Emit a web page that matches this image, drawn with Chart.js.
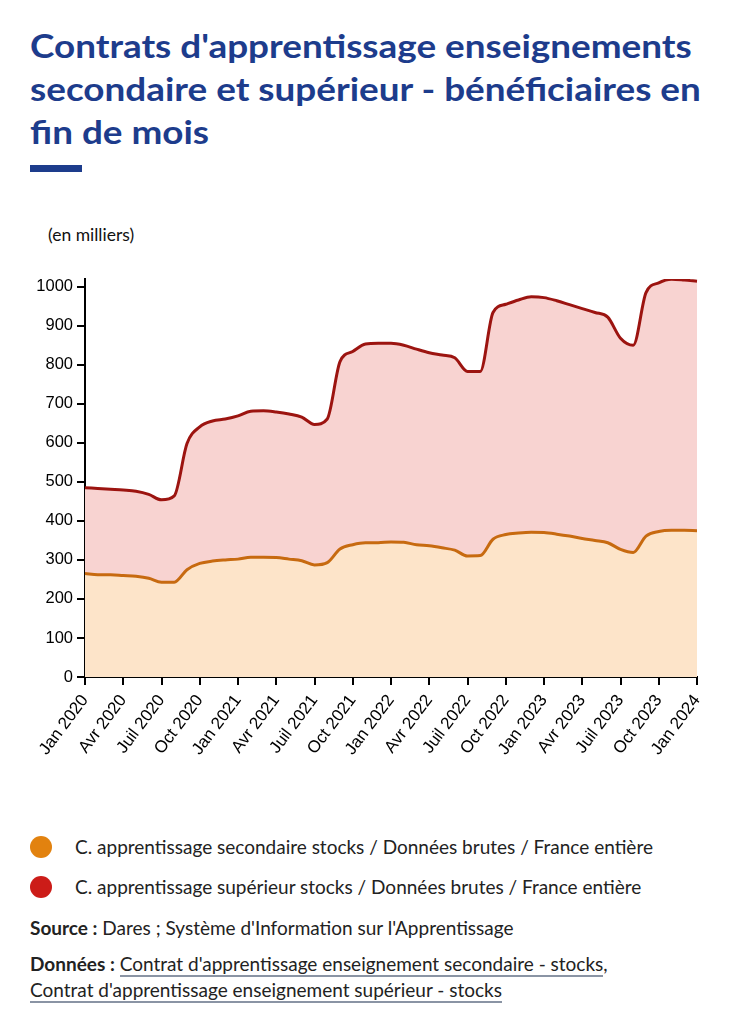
<!DOCTYPE html>
<html lang="fr">
<head>
<meta charset="utf-8">
<script src="https://cdn.jsdelivr.net/npm/chart.js@4.4.1/dist/chart.umd.min.js"></script>
<style>
    body { margin: 0; background: #fff; font-family: Lato, sans-serif; }
    #title { position: absolute; left: 30px; top: 24px; width: 700px; margin: 0; white-space: nowrap;
        font-size: 33px; line-height: 43px; font-weight: 700; color: #1d3c8c;
        transform: scaleX(1.117); transform-origin: left top; }
    #bar { position: absolute; left: 30px; top: 165px; width: 52px; height: 7px; background: #1d3c8c; }
    #unit { position: absolute; left: 48px; top: 224px; font-size: 17.5px; color: #111; }
    #wrap { position: absolute; left: 0; top: 265px; width: 745px; height: 520px; }
    .leg { position: absolute; left: 30px; font-size: 19px; color: #222; }
    .leg span { display: inline-block; width: 22px; height: 22px; border-radius: 50%;
        vertical-align: middle; margin-right: 23px; position: relative; top: -2px; }
    .note { position: absolute; left: 30px; font-size: 19px; color: #222; line-height: 26px; }
    .note a { color: #222; text-decoration: none; border-bottom: 2px solid #8a94a4; }
</style>
</head>
<body>
<h1 id="title">Contrats d'apprentissage enseignements<br>secondaire et supérieur - bénéficiaires en<br>fin de mois</h1>
<div id="bar"></div>
<div id="unit">(en milliers)</div>
<div id="wrap"><canvas id="chart"></canvas></div>
<div class="leg" style="top:835px"><span style="background:#e2820f"></span>C. apprentissage secondaire stocks / Données brutes / France entière</div>
<div class="leg" style="top:875px"><span style="background:#cc1c18"></span>C. apprentissage supérieur stocks / Données brutes / France entière</div>
<div class="note" style="top:915px"><b>Source :</b> Dares ; Système d'Information sur l'Apprentissage</div>
<div class="note" style="top:951px"><b>Données :</b> <a>Contrat d'apprentissage enseignement secondaire - stocks</a>,<br><a>Contrat d'apprentissage enseignement supérieur - stocks</a></div>

<script>
const monthNames = ['Jan', 'Fév', 'Mar', 'Avr', 'Mai', 'Juin', 'Juil', 'Août', 'Sep', 'Oct', 'Nov', 'Déc'];
const years = [2020, 2021, 2022, 2023, 2024];

// Jan 2020 .. Jan 2024, monthly (en milliers)
const secondaire = [
    265, 262, 262, 260, 258, 253, 243, 243, 275, 291, 297, 300,
    302, 307, 307, 306, 302, 298, 287, 293, 328, 339, 344, 344,
    346, 345, 339, 336, 331, 325, 310, 311, 353, 365, 369, 371,
    370, 366, 361, 355, 350, 344, 327, 319, 361, 373, 376, 376,
    375
];
const superieur = [
    220, 221, 219, 219, 218, 215, 211, 221, 323, 350, 359, 361,
    367, 374, 375, 373, 372, 368, 360, 368, 480, 495, 509, 511,
    509, 505, 501, 495, 494, 493, 473, 472, 581, 590, 597, 603,
    602, 598, 593, 589, 584, 578, 541, 531, 624, 637, 643, 641,
    639
];
const yTicks = [0, 100, 200, 300, 400, 500, 600, 700, 800, 900, 1000];

const labels = [];
years.forEach(y => monthNames.forEach(m => labels.push(m + ' ' + y)));
labels.length = secondaire.length;

function initializeChart() {
    const ctx = document.getElementById('chart');
    new Chart(ctx, {
        type: 'line',
        data: {
            labels: labels,
            datasets: [{
                label: 'C. apprentissage secondaire stocks / Données brutes / France entière',
                data: secondaire,
                borderColor: '#c76a10',
                backgroundColor: '#fde4c9',
                borderWidth: 3,
                fill: 'origin',
                pointRadius: 0,
                cubicInterpolationMode: 'monotone'
            }, {
                label: 'C. apprentissage supérieur stocks / Données brutes / France entière',
                data: superieur,
                borderColor: '#9c1410',
                backgroundColor: '#f8d3d1',
                borderWidth: 3,
                fill: '-1',
                pointRadius: 0,
                cubicInterpolationMode: 'monotone'
            }]
        },
        options: {
            responsive: true,
            maintainAspectRatio: false,
            animation: false,
            layout: { padding: { left: 0, right: 48, top: 0, bottom: 0 } },
            scales: {
                y: {
                    stacked: true,
                    min: 0,
                    max: 1020,
                    afterBuildTicks: s => { s.ticks = yTicks.map(v => ({ value: v })); },
                    afterFit: s => { s.width = 85; },
                    border: { color: '#000', width: 2 },
                    grid: { drawOnChartArea: false, tickLength: 8, color: '#000', lineWidth: 2 },
                    ticks: {
                        color: '#000', padding: 4,
                        font: { family: 'Liberation Sans', size: 16.5 },
                        callback: v => String(v)
                    }
                },
                x: {
                    afterFit: s => { s.height = 108; },
                    border: { color: '#000', width: 2 },
                    grid: {
                        drawOnChartArea: false, tickLength: 8, lineWidth: 2,
                        color: c => (c.index % 3 === 0 ? '#000' : 'rgba(0,0,0,0)')
                    },
                    ticks: {
                        autoSkip: false,
                        maxRotation: 53,
                        minRotation: 53,
                        color: '#000',
                        padding: 6,
                        font: { family: 'Liberation Sans', size: 17 },
                        callback: function (v, i) { return i % 3 === 0 ? this.getLabelForValue(v) : ''; }
                    }
                }
            },
            plugins: {
                legend: { display: false },
                tooltip: { enabled: false }
            }
        }
    });
}

document.addEventListener('DOMContentLoaded', initializeChart);
</script>
</body>
</html>
